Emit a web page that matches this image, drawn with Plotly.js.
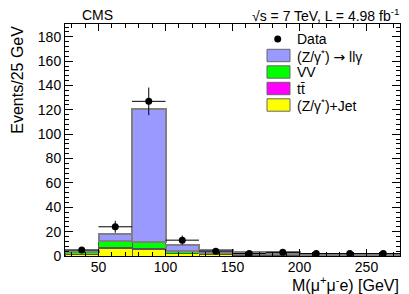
<!DOCTYPE html>
<html>
<head>
<meta charset="utf-8">
<script src="https://cdn.plot.ly/plotly-3.0.1.min.js"></script>
<style>html,body{margin:0;padding:0;background:#fff;}#chart{width:409px;height:294px;}</style>
</head>
<body>
<div id="chart"></div>
<script>
// Bin centers (M(mu+ mu- e) in GeV, 25 GeV bins from 25 to 275)
const binCenters = [37.5, 62.5, 87.5, 112.5, 137.5, 162.5, 187.5, 212.5, 237.5, 262.5];
const binWidth = 25;
// Stacked MC components (events / 25 GeV), bottom to top
const zJet = [1.5, 6.5, 5.2, 2.2, 1.5, 0.6, 0.4, 0.2, 0.2, 0.1];
const ttbar = [0.1, 0.5, 0.8, 0.2, 0.1, 0.1, 0.1, 0.1, 0.05, 0.05];
const vv = [1.6, 5.2, 5.8, 1.4, 1.2, 1.1, 0.9, 0.9, 0.7, 0.6];
const zllg = [1.3, 5.8, 108.7, 5.0, 2.0, 1.5, 1.6, 0.3, 0.2, 0.2];
// Data points and their errors
const dataCounts = [5, 24, 127, 13, 4, 2, 3, 2, 2, 2];
const dataErr = [2.2, 4.9, 11.3, 3.8, 2.0, 1.4, 1.7, 1.4, 1.4, 1.4];
// Legend labels
const legendLabels = ['Data', '(Z/γ<sup>*</sup>) <span style="font-family:DejaVu Sans">→</span> llγ', 'VV', 'tt̄', '(Z/γ<sup>*</sup>)+Jet'];
const colors = {zllg: '#9999ff', vv: '#00ff00', tt: '#ff00ff', zjet: '#ffff00'};

const font = 'Liberation Sans, Arial, Helvetica, sans-serif';

function barTrace(vals, color, lc, lw, name) {
  return {
    type: 'bar', x: binCenters, y: vals, width: binWidth, name: name,
    marker: {color: color, line: {color: lc, width: lw}},
    showlegend: false, hoverinfo: 'skip'
  };
}

const traces = [
  barTrace(zJet, colors.zjet, '#555', 1, 'Z+Jet'),
  barTrace(ttbar, colors.tt, '#555', 1, 'ttbar'),
  barTrace(vv, colors.vv, '#555', 1, 'VV'),
  barTrace(zllg, colors.zllg, '#808080', 2, 'Z to llgamma'),
  {
    type: 'scatter', mode: 'markers', x: binCenters, y: dataCounts, name: 'Data',
    marker: {color: 'black', size: 7},
    error_y: {type: 'data', array: dataErr, visible: true, color: 'black', thickness: 1, width: 0},
    error_x: {type: 'constant', value: binWidth / 2, visible: true, color: 'black', thickness: 1, width: 0},
    showlegend: false, cliponaxis: true
  }
];

// pixel helpers for legend placement (paper coords)
const L = 65, R = 9, T = 24, B = 38, W = 409, H = 294;
const pw = W - L - R, ph = H - T - B;
const px = v => (v - L) / pw;
const py = v => (H - B - v) / ph;

const shapes = [];
const annotations = [];
const legendY = [39, 55.5, 72, 88.5, 105];
const boxColors = [null, colors.zllg, colors.vv, colors.tt, colors.zjet];
legendY.forEach((cy, i) => {
  if (i === 0) {
    shapes.push({type: 'circle', xref: 'paper', yref: 'paper',
      x0: px(274.2), x1: px(281.2), y0: py(cy + 3.5), y1: py(cy - 3.5),
      fillcolor: 'black', line: {color: 'black', width: 0}});
  } else {
    shapes.push({type: 'rect', xref: 'paper', yref: 'paper',
      x0: px(267), x1: px(290), y0: py(cy + 6.2), y1: py(cy - 6.2),
      fillcolor: boxColors[i], line: {color: '#666', width: 1}});
  }
  annotations.push({xref: 'paper', yref: 'paper', x: px(295), y: py(cy),
    xanchor: 'left', yanchor: 'middle', text: legendLabels[i], showarrow: false,
    font: {family: font, size: 14, color: 'black'}});
});

annotations.push({xref: 'paper', yref: 'paper', x: px(80), y: py(15), xanchor: 'left', yanchor: 'middle',
  text: 'CMS', showarrow: false, font: {family: font, size: 14, color: 'black'}});
annotations.push({xref: 'paper', yref: 'paper', x: px(401), y: py(15), xanchor: 'right', yanchor: 'middle',
  text: '√s = 7 TeV, L = 4.98 fb<sup>-1</sup>', showarrow: false, font: {family: font, size: 14, color: 'black'}});
annotations.push({xref: 'paper', yref: 'paper', x: px(16.7), y: py(24), xanchor: 'center', yanchor: 'top',
  textangle: -90, text: 'Events/25 GeV', showarrow: false, font: {family: font, size: 16, color: 'black'}});
annotations.push({xref: 'paper', yref: 'paper', x: px(401), y: py(283.5), xanchor: 'right', yanchor: 'middle',
  text: 'M(μ<sup>+</sup>μ<sup>-</sup>e) [GeV]', showarrow: false, font: {family: font, size: 16, color: 'black'}});

const layout = {
  width: W, height: H,
  margin: {l: L, r: R, t: T, b: B, pad: 0},
  paper_bgcolor: 'white', plot_bgcolor: 'white',
  barmode: 'stack', bargap: 0,
  showlegend: false,
  font: {family: font, size: 14, color: 'black'},
  xaxis: {
    range: [25, 275], tick0: 0, dtick: 50, ticks: 'inside', ticklen: 7, tickcolor: 'black',
    minor: {dtick: 10, tick0: 0, ticks: 'inside', ticklen: 4, tickcolor: 'black'},
    showline: true, linecolor: 'black', linewidth: 1, mirror: 'allticks',
    showgrid: false, zeroline: false, ticklabelstandoff: -2,
    tickfont: {family: font, size: 14, color: 'black'}
  },
  yaxis: {
    range: [0, 190.5], tick0: 0, dtick: 20, ticks: 'inside', ticklen: 8, tickcolor: 'black',
    minor: {dtick: 4, tick0: 0, ticks: 'inside', ticklen: 4, tickcolor: 'black'},
    showline: true, linecolor: 'black', linewidth: 1, mirror: 'allticks',
    showgrid: false, zeroline: false, tickfont: {family: font, size: 14, color: 'black'}
  },
  shapes: shapes,
  annotations: annotations
};

Plotly.newPlot('chart', traces, layout, {staticPlot: true, displayModeBar: false});
</script>
</body>
</html>
